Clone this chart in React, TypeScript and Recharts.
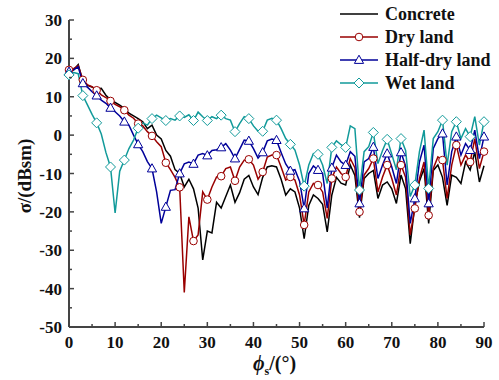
import React from 'react'
import { LineChart, Line, XAxis, YAxis } from 'recharts'

const angles = [
  0, 1, 2, 3, 4, 5, 6, 7, 8, 9, 10, 11, 12, 13, 14, 15, 16, 17, 18, 19, 20, 21, 22, 23, 24, 25, 26, 27, 28, 29,
  30, 31, 32, 33, 34, 35, 36, 37, 38, 39, 40, 41, 42, 43, 44, 45, 46, 47, 48, 49, 50, 51, 52, 53, 54, 55, 56, 57,
  58, 59, 60, 61, 62, 63, 64, 65, 66, 67, 68, 69, 70, 71, 72, 73, 74, 75, 76, 77, 78, 79, 80, 81, 82, 83, 84, 85,
  86, 87, 88, 89, 90,
]

const concrete = [
  17, 17, 18.4, 14, 13, 12.5, 12, 12.2, 10.4, 9.2, 8.5, 7.8, 7, 5.7, 5, 4.3, 3.5, 1.7, 2.6, 0, -1, -4, -5.5, -9,
  -10, -13.5, -11.5, -14, -19, -32.5, -25, -25.5, -17.5, -19, -16, -13, -17.5, -15, -11.5, -10.5, -13.5, -15.5,
  -11, -8.3, -8, -8.3, -11.5, -15.6, -14, -14.8, -19, -27, -18.3, -15.6, -16.5, -18, -25.2, -15.6, -11, -12.5,
  -13, -7.8, -10.5, -21.5, -11.3, -10, -9.2, -16.5, -13, -12.2, -14, -17.8, -10.4, -14, -28.3, -18.3, -12, -8.7,
  -23, -9.2, -7.8, -11, -18.3, -10.4, -11, -12.6, -7, -9.1, -4.4, -12.2, -8,
]

const dryLand = [
  17, 17.3, 18.1, 14.4, 13.1, 12.6, 11.7, 10.5, 9.8, 8.9, 8, 7.4, 6.5, 5.2, 4.4, 3, 2.4, 0.9, -0.2, -1.7, -3,
  -7.2, -9, -11, -13.6, -41, -21.3, -27.6, -26, -14.8, -16.8, -13.5, -10.9, -10.7, -8.7, -8.3, -11.9, -8.3, -6.5,
  -6.3, -7.8, -11.5, -9.6, -5.7, -5.2, -5.2, -8.3, -11.7, -10.9, -11.7, -15.6, -23.4, -14.8, -12.6, -13, -14.8,
  -21.7, -11.3, -8.3, -10, -10.9, -6.1, -8.5, -20, -10.4, -8.7, -6.1, -14.8, -10.9, -7.8, -11.3, -15.6, -7.8,
  -11, -26, -19.1, -11.3, -7, -20.9, -8.7, -5.7, -6.5, -16.5, -7.8, -2.6, -7.8, -5.2, -7, -0.9, -8.7, -4.3,
]

const halfDryLand = [
  16.5, 17, 17.8, 13.5, 12.5, 11.3, 10.3, 9.1, 8.3, 7.1, 6.1, 5, 3.5, 2.6, 0, -2.4, -4.3, -6.9, -8.7, -14.8, -23,
  -18.7, -14.4, -14.2, -10, -7.5, -7, -7.5, -5.2, -4.8, -5.3, -4, -3.8, -3.2, -2.2, -3.9, -6.1, -3.7, -1.3, -1.5,
  -3.5, -6, -4.5, -1.5, -1, -1.3, -4.5, -7.5, -9.3, -9, -12, -19.1, -10, -8, -9.1, -10, -19, -8.5, -5.2, -7, -7.8,
  -4.3, -5.5, -17.8, -7, -6.1, -3.1, -11.3, -7.8, -4.8, -8.3, -12.6, -4.5, -8, -23, -16.5, -7, -2.6, -17.8, -3.5,
  -0.9, 0.4, -13, -4.3, -0.4, -5.2, -2.2, -3.9, 1.3, -6.1, -0.4,
]

const wetLand = [
  15.7, 16.3, 16, 10.3, 7.9, 5.4, 3.2, 0.3, -4.5, -8.3, -20.3, -9.4, -6.5, -3.5, -1.3, 1.8, 3.2, 2.6, 4.3, 5.2,
  4.5, 3.8, 4.3, 3.9, 5, 4.6, 5.3, 3.8, 6, 4.8, 3.8, 4.8, 4.3, 5.2, 4.3, 3.9, 0.9, 3, 4.8, 4.3, 2.4, 1, 1, 3.9,
  4.4, 3.9, 1.7, -0.9, -2.4, -3.9, -7.8, -13.3, -7.8, -4.8, -5, -7.8, -12.6, -3.2, -1.5, -2.5, -3.2, 2.4, 1.7,
  -14.3, -4.3, -3, 0.7, -7.4, -4, -1.1, -5, -9, -0.9, -4, -16, -13, -4.3, 1.3, -13.9, -0.9, 0.9, 3.9, -7.8, 0.9,
  3.5, -0.9, 1.7, -0.4, 4.8, -2.6, 3.5,
]

const xTicks = [0, 5, 10, 15, 20, 25, 30, 35, 40, 45, 50, 55, 60, 65, 70, 75, 80, 85, 90]
const yTicks = [-50, -45, -40, -35, -30, -25, -20, -15, -10, -5, 0, 5, 10, 15, 20, 25, 30]

const data = angles.map((a, i) => ({
  angle: a,
  concrete: concrete[i],
  dry: dryLand[i],
  half: halfDryLand[i],
  wet: wetLand[i],
}))

const FONT = "'Liberation Serif', 'Times New Roman', serif"
const AXIS = '#444'
const BLACK = '#000000'
const RED = '#990000'
const BLUE = '#000099'
const TEAL = '#119a9a'

function Marker({ kind, cx, cy, color }: { kind: string; cx: number; cy: number; color: string }) {
  if (kind === 'circle') {
    return <circle cx={cx} cy={cy} r={3.8} fill="#fff" stroke={color} strokeWidth={1} />
  }
  if (kind === 'triangle') {
    const p = `${cx},${cy - 4.8} ${cx - 4.6},${cy + 3.4} ${cx + 4.6},${cy + 3.4}`
    return <polygon points={p} fill="#fff" stroke={color} strokeWidth={1} />
  }
  if (kind === 'diamond') {
    const p = `${cx},${cy - 5} ${cx + 5},${cy} ${cx},${cy + 5} ${cx - 5},${cy}`
    return <polygon points={p} fill="#fff" stroke={color} strokeWidth={1} />
  }
  return null
}

// markers on every third point
const everyThird = (kind: string, color: string) => (props: any) => {
  const { cx, cy, index } = props
  if (index % 3 !== 0 || cx == null || cy == null) return <g key={index} />
  return (
    <g key={index}>
      <Marker kind={kind} cx={cx} cy={cy} color={color} />
    </g>
  )
}

function XTick(props: any) {
  const { x, y, payload } = props
  const major = payload.value % 10 === 0
  return (
    <g>
      <line x1={x} x2={x} y1={y} y2={y - (major ? 5 : 3)} stroke={AXIS} strokeWidth={1.5} />
      {major && (
        <text x={x} y={y + 21} textAnchor="middle" fontFamily={FONT} fontWeight="bold" fontSize={17} fill="#111">
          {payload.value}
        </text>
      )}
    </g>
  )
}

function YTick(props: any) {
  const { x, y, payload } = props
  const major = payload.value % 10 === 0
  return (
    <g>
      <line x1={x} x2={x + (major ? 5 : 3)} y1={y} y2={y} stroke={AXIS} strokeWidth={1.5} />
      {major && (
        <text x={x - 7} y={y + 6} textAnchor="end" fontFamily={FONT} fontWeight="bold" fontSize={17} fill="#111">
          {payload.value}
        </text>
      )}
    </g>
  )
}

const legendRows = [
  { name: 'Concrete', color: BLACK, kind: 'none' },
  { name: 'Dry land', color: RED, kind: 'circle' },
  { name: 'Half-dry land', color: BLUE, kind: 'triangle' },
  { name: 'Wet land', color: TEAL, kind: 'diamond' },
]

export default function App() {
  return (
    <div style={{ position: 'absolute', left: 0, top: 0, width: 499, height: 380, background: '#fff' }}>
      <LineChart width={499} height={380} data={data} margin={{ top: 20, right: 15, bottom: 13, left: 9 }}>
        <XAxis
          dataKey="angle"
          type="number"
          domain={[0, 90]}
          ticks={xTicks}
          interval={0}
          height={40}
          tickSize={0}
          tickMargin={0}
          tickLine={false}
          axisLine={{ stroke: AXIS, strokeWidth: 2 }}
          tick={(p: any) => <XTick {...p} />}
        />
        <YAxis
          type="number"
          domain={[-50, 30]}
          ticks={yTicks}
          interval={0}
          width={60}
          tickSize={0}
          tickMargin={0}
          tickLine={false}
          axisLine={{ stroke: AXIS, strokeWidth: 2 }}
          tick={(p: any) => <YTick {...p} />}
        />
        <Line dataKey="concrete" stroke={BLACK} strokeWidth={1.5} dot={false} isAnimationActive={false} />
        <Line dataKey="dry" stroke={RED} strokeWidth={1.5} dot={everyThird('circle', RED)} isAnimationActive={false} />
        <Line dataKey="half" stroke={BLUE} strokeWidth={1.5} dot={everyThird('triangle', BLUE)} isAnimationActive={false} />
        <Line dataKey="wet" stroke={TEAL} strokeWidth={1.5} dot={everyThird('diamond', TEAL)} isAnimationActive={false} />
      </LineChart>
      <svg width={499} height={380} style={{ position: 'absolute', left: 0, top: 0, pointerEvents: 'none' }}>
        {legendRows.map((r, i) => {
          const y = 14 + i * 23
          return (
            <g key={r.name}>
              <line x1={340} x2={378} y1={y} y2={y} stroke={r.color} strokeWidth={1.5} />
              <Marker kind={r.kind} cx={359} cy={y} color={r.color} />
              <text x={385} y={y + 6} fontFamily={FONT} fontWeight="bold" fontSize={18} fill="#111">
                {r.name}
              </text>
            </g>
          )
        })}
        <text
          x={0}
          y={0}
          transform="translate(31,176) rotate(-90)"
          textAnchor="middle"
          fontFamily={FONT}
          fontWeight="bold"
          fontSize={19}
          fill="#111"
        >
          σ/(dBsm)
        </text>
        <text x={253} y={370} fontFamily={FONT} fontWeight="bold" fontSize={20} fill="#111">
          <tspan fontStyle="italic">ϕ</tspan>
          <tspan fontSize={12} dy={5}>s</tspan>
          <tspan dy={-5}>/(°)</tspan>
        </text>
      </svg>
    </div>
  )
}
